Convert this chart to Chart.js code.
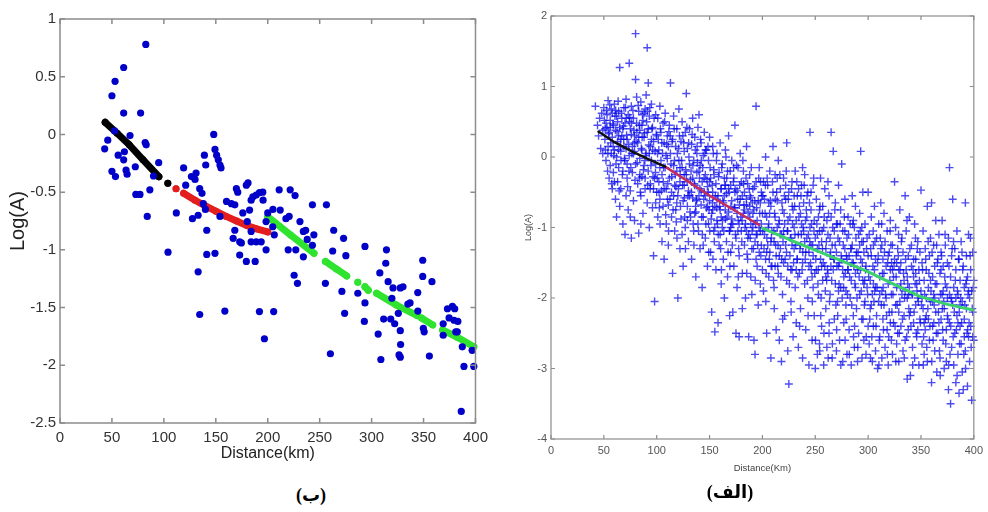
<!DOCTYPE html>
<html>
<head>
<meta charset="utf-8">
<script src="https://cdn.jsdelivr.net/npm/chart.js@4.4.1/dist/chart.umd.min.js"></script>
<style>
body { margin:0; background:#fff; width:988px; height:512px; position:relative; overflow:hidden; }
.box { position:absolute; }
.cap { position:absolute; font: bold 18px 'Liberation Serif', 'DejaVu Sans', serif; direction: rtl; transform: translateX(-50%); color:#000; white-space:nowrap; }
</style>
</head>
<body>
<div class="box" style="left:0;top:0;width:494px;height:475px"><canvas id="chartB"></canvas></div>
<div class="box" style="left:494px;top:0;width:494px;height:485px"><canvas id="chartA"></canvas></div>
<div class="cap" style="left:311px;top:484px">(ب)</div>
<div class="cap" style="left:730px;top:481px">(الف)</div>
<script>
// ---- panel (ب): station dots + fitted curve pieces
const bluePoints = [[43,-0.125],[46,-0.05],[50,0.335],[50,-0.32],[52.5,0.03],[53,0.46],[53.4,-0.365],[56,-0.18],[61.3,0.58],[61.3,0.185],[61.3,-0.22],[62,-0.15],[63.6,-0.31],[64.6,-0.345],[67.4,-0.01],[72.5,-0.28],[73,-0.52],[77,-0.52],[77.6,0.185],[82.6,0.78],[82,-0.07],[83,-0.09],[84,-0.71],[86.5,-0.48],[90,-0.36],[95,-0.245],[104,-1.02],[112,-0.68],[119,-0.29],[121,-0.44],[126.5,-0.365],[127.5,-0.73],[130,-0.39],[131,-0.335],[133,-0.70],[133,-1.19],[134.5,-1.56],[134.5,-0.47],[136.7,-0.51],[138,-0.60],[139,-0.18],[140.3,-0.265],[140,-0.65],[141.3,-0.83],[141.3,-1.04],[148,0.0],[149.2,-0.13],[150.8,-0.18],[152.4,-0.22],[154,-0.265],[155,-0.29],[149.2,-1.03],[154,-0.71],[158.7,-1.53],[160.3,-0.58],[165,-0.60],[168.3,-0.61],[166.7,-0.90],[168.3,-0.83],[169.8,-0.47],[171.1,-0.50],[173,-0.93],[174.6,-0.94],[173,-1.045],[176,-0.68],[179.4,-1.10],[179.4,-0.44],[181,-0.42],[180.3,-0.755],[182.5,-0.655],[184,-0.57],[184,-0.84],[184,-0.93],[185.7,-0.54],[187.9,-1.10],[188.9,-0.525],[188.9,-0.93],[192,-0.505],[192,-1.535],[193.7,-0.93],[195.2,-0.50],[195.5,-0.57],[196.8,-1.77],[198.4,-1.00],[198.4,-0.755],[200,-0.68],[204.8,-0.80],[205.7,-1.535],[206.3,-0.87],[205,-0.65],[211,-0.48],[212,-0.655],[217.5,-0.73],[219.7,-1.00],[220.6,-0.71],[221.6,-0.48],[225.4,-1.22],[226.3,-0.53],[227,-1.00],[228.6,-1.29],[231,-0.755],[234.3,-0.84],[234.3,-1.06],[236.5,-0.83],[238,-0.91],[243,-0.61],[243,-0.96],[244.4,-0.87],[255.5,-1.29],[256.5,-0.61],[260.3,-1.90],[262.5,-1.01],[263.5,-0.83],[271.4,-1.36],[273,-0.90],[274,-1.55],[275.2,-1.05],[286.7,-1.376],[293.6,-0.97],[293.6,-1.46],[293,-1.62],[306.3,-1.73],[307.9,-1.20],[308.9,-1.95],[311.6,-1.60],[313.6,-1.116],[314.3,-1.00],[315.9,-1.276],[318.4,-1.60],[319.5,-1.42],[320.6,-1.33],[322.2,-1.64],[325.7,-1.55],[326.4,-1.91],[327.6,-1.33],[327.6,-1.70],[327.9,-1.82],[327.6,-1.93],[330.2,-1.32],[334.9,-1.47],[337,-1.46],[344.4,-1.37],[344.5,-1.53],[349.2,-1.09],[349.2,-1.23],[349.8,-1.68],[350.6,-1.71],[355.6,-1.92],[358.1,-1.276],[368.9,-1.64],[368.9,-1.74],[373,-1.51],[374.6,-1.59],[377.8,-1.49],[379.4,-1.61],[380,-1.51],[381,-1.71],[382.5,-1.71],[383,-1.62],[386.3,-2.40],[387.3,-1.84],[388.9,-2.01],[396.8,-1.87],[398.4,-2.01]];

// null y = break in the dotted curve
const fitBlackB = [[43.5,0.105],[55,0.01],[66.7,-0.09],[80,-0.22],[95.2,-0.366],[99,null],[103.8,-0.424]];
const fitRedB = [[111.7,-0.47],[115,null],[119,-0.51],[130,-0.57],[140,-0.62],[150,-0.665],[160,-0.71],[170,-0.75],[180,-0.79],[190,-0.82],[200,-0.845]];
const fitGreenB = [[200,-0.713],[222,-0.871],[244.5,-1.03],[250,null],[255.5,-1.10],[266,-1.165],[276,-1.226],[281,null],[286.7,-1.28],[290,null],[293.6,-1.32],[296.8,-1.35],[300,null],[304.8,-1.376],[323.8,-1.478],[344,-1.57],[346,null],[348,-1.59],[358.8,-1.65],[363,null],[368.3,-1.694],[383,-1.76],[398.4,-1.84]];

// ---- panel (الف): record crosses by distance band
const crossNear = [[42,0.72],[44,0.45],[45,0.30],[46,0.55],[47,0.12],[48,0.62],[49,0.05],[49,0.38],[50,0.70],[51,0.25],[52,0.48],[52,-0.05],[53,0.60],[54,0.15],[54,0.80],[55,-0.30],[55,0.35],[56,0.52],[56,-0.12],[57,0.05],[57,0.68],[58,-0.45],[58,0.28],[59,0.45],[59,-0.22],[60,0.10],[60,0.75],[61,-0.60],[61,0.38],[62,-0.85],[62,0.58],[62,0.00],[63,-0.35],[63,0.22],[64,0.65],[64,-0.15],[65,1.27],[65,0.42],[65,-0.70],[66,0.08],[66,-0.45],[67,0.55],[67,0.30],[68,-0.95],[68,-0.20],[69,0.70],[69,0.15],[70,-1.10],[70,-0.05],[70,0.48],[71,-0.55],[71,0.82],[72,0.25],[72,-0.30],[73,0.60],[73,-0.75],[74,1.33],[74,0.02],[75,0.40],[75,-0.48],[76,-1.15],[76,0.72],[77,0.15],[77,-0.22],[78,0.55],[78,-0.62],[79,0.30],[79,-0.90],[80,1.75],[80,1.10],[80,-0.10],[81,0.48],[81,0.85],[82,-0.38],[82,0.20],[83,-1.08],[83,0.65],[84,-0.02],[84,0.38],[85,-0.55],[85,0.78],[86,0.10],[86,-0.28],[87,0.52],[87,-0.80],[88,0.28],[88,-0.12],[89,0.68],[89,-0.45],[90,0.05],[90,0.88],[91,1.55],[91,-0.65],[91,0.35],[92,1.05],[92,-0.20],[93,0.58],[93,-1.00],[94,0.15],[94,-0.38],[95,0.75],[95,-0.05],[96,-0.72],[96,0.42],[97,-1.40],[97,0.22],[98,-2.05],[98,-0.30],[99,0.60],[99,-0.10],[100,-0.50],[100,0.30],[53,0.42],[58,0.62],[63,0.50],[66,0.25],[68,0.40],[71,0.12],[74,0.50],[76,0.32],[79,0.08],[83,0.28],[86,0.45],[88,0.62],[92,0.40],[95,0.25],[97,-0.45],[60,-0.35],[64,0.30],[72,-0.10],[78,0.05],[84,-0.25],[89,-0.30],[93,0.05],[99,-0.65],[85,-0.95],[75,-0.85],
[50.5,0.52],[51.5,0.10],[52.5,0.66],[53.5,-0.20],[54.5,0.33],[55.5,0.74],[56.5,0.20],[57.5,-0.38],[58.5,0.47],[59.5,0.02],[60.5,0.58],[61.5,-0.10],[62.5,0.36],[63.5,0.79],[64.5,-0.48],[65.5,0.15],[66.5,0.62],[67.5,-0.25],[68.5,0.44],[69.5,-0.02],[70.5,0.70],[71.5,0.31],[72.5,-0.42],[73.5,0.18],[74.5,0.56],[75.5,-0.15],[76.5,0.05],[77.5,0.66],[78.5,0.38],[79.5,-0.33],[80.5,0.22],[81.5,-0.08],[82.5,0.73],[83.5,0.45],[84.5,-0.50],[85.5,0.12],[86.5,0.60],[87.5,-0.18],[88.5,0.34],[89.5,0.02],[90.5,0.50],[91.5,-0.40],[92.5,0.17],[93.5,0.70],[94.5,-0.12],[95.5,0.40],[96.5,-0.28],[97.5,0.55],[98.5,0.08],[99.5,0.32],[51.2,0.40],[53.8,0.05],[56.2,0.42],[58.8,0.15],[61.2,0.66],[63.8,0.10],[66.2,-0.05],[68.8,0.25],[71.2,0.55],[73.8,-0.20],[76.2,0.48],[78.8,0.20],[81.2,0.35],[83.8,-0.30],[86.2,0.28],[88.8,-0.05],[91.2,0.65],[93.8,-0.45],[96.2,0.10],[98.8,-0.22]];

const crossMid = [[101,0.55],[101,-0.85],[102,0.10],[102,-0.35],[103,0.72],[103,-0.60],[104,-0.05],[104,0.35],[105,-1.20],[105,-0.25],[106,0.48],[106,-0.70],[107,0.20],[107,-1.45],[108,-0.15],[108,0.62],[109,-0.45],[109,-0.95],[110,0.30],[110,-0.02],[111,-0.68],[111,-1.25],[112,0.45],[112,-0.30],[113,1.05],[113,0.05],[114,-0.85],[114,-0.50],[115,0.25],[115,-1.65],[116,-0.12],[116,0.58],[117,-0.40],[117,-1.05],[118,0.15],[118,-0.75],[119,0.40],[119,-0.20],[120,-2.00],[120,-0.55],[121,0.68],[121,-0.05],[122,-1.30],[122,-0.35],[123,0.22],[123,-0.88],[124,-0.15],[124,0.50],[125,-0.62],[125,-1.55],[126,0.08],[126,-0.40],[127,0.35],[127,-1.00],[128,0.90],[128,-0.25],[129,-0.70],[129,0.12],[130,-1.20],[130,-0.48],[131,0.40],[131,-0.10],[132,-0.85],[132,-0.32],[133,0.18],[133,-1.45],[134,-0.58],[134,0.55],[135,-0.05],[135,-1.05],[136,-0.40],[136,0.28],[137,-0.78],[137,-1.70],[138,0.05],[138,-0.22],[139,-0.95],[139,0.42],[140,-0.55],[140,0.60],[141,-1.30],[141,-0.12],[142,-0.68],[142,0.20],[143,-0.35],[143,-1.85],[144,-0.85],[144,0.02],[145,-0.50],[145,0.35],[146,-1.15],[146,-0.25],[147,-0.72],[147,0.10],[148,-1.55],[148,-0.42],[149,-0.05],[149,-0.95],[150,-0.62],[150,0.28],[151,-1.35],[151,-0.30],[152,-0.80],[152,-2.20],[153,0.15],[153,-0.50],[154,-1.05],[154,-0.18],[155,-2.48],[155,-0.70],[156,-0.38],[156,-1.60],[157,0.05],[157,-0.90],[158,-2.35],[158,-0.55],[159,-1.25],[159,-0.22],[160,-0.75],[160,0.20],[161,-1.80],[161,-0.45],[162,-1.00],[162,-0.10],[163,-0.65],[163,-1.45],[164,-0.30],[164,-2.00],[165,-0.88],[165,0.10],[166,-1.20],[166,-0.52],[167,-1.70],[167,-0.20],[168,-0.78],[168,0.30],[169,-1.05],[169,-2.25],[170,-0.40],[170,-1.35],[171,-0.62],[171,-0.05],[172,-2.20],[172,-0.95],[173,-1.55],[173,-0.30],[174,0.45],[174,-0.72],[175,-1.15],[175,-2.50],[176,-0.48],[176,-1.85],[177,-0.90],[177,-0.15],[178,-2.55],[178,-1.40],[179,-0.60],[179,0.05],[180,-1.05],[180,-0.35],[181,-1.65],[181,-2.15],[182,-0.80],[182,-0.20],[183,-1.25],[183,-0.50],[184,-2.00],[184,-0.95],[185,-0.68],[185,0.15],[186,-1.45],[186,-0.38],[187,-1.10],[187,-2.55],[188,-0.85],[188,-0.25],[189,-1.70],[189,-0.58],[190,-1.30],[190,-1.95],[191,-0.45],[191,-1.00],[192,-2.60],[192,-0.75],[193,-2.80],[193,-1.20],[194,0.72],[194,-0.35],[195,-1.55],[195,-0.90],[196,-0.62],[196,-2.10],[197,-1.35],[197,-0.15],[198,-1.05],[198,-1.80],[199,-0.50],[199,-1.25],[200,-0.80],[200,-1.60],[122,-0.15],[126,-0.25],[131,-0.55],[134,-0.30],[138,-0.60],[142,-0.48],[146,-0.55],[150,-0.35],[153,-0.75],[157,-0.60],[161,-0.85],[164,-0.55],[168,-0.45],[171,-0.88],[174,-0.50],[178,-0.95],[181,-0.55],[185,-1.05],[188,-0.70],[191,-0.80],[195,-1.10],[199,-0.95],[103,-0.15],[107,-0.45],[111,0.15],[116,-0.55],[119,-0.65],[124,-1.10],[129,-0.90],[136,-0.80],[140,-0.20],[144,-1.25],[148,-0.70],[155,-1.00],[160,-1.10],[165,-0.40],[170,-1.00],[176,-0.80],[183,-0.75],[189,-0.95],[194,-1.45],[198,-0.65],
[100.5,-0.30],[101.5,0.25],[102.5,-0.72],[103.5,0.40],[104.5,-0.48],[105.5,0.05],[106.5,-0.15],[107.5,0.50],[108.5,-0.82],[109.5,0.18],[110.5,-0.38],[111.5,0.36],[112.5,-0.60],[113.5,-0.10],[114.5,0.22],[115.5,-0.75],[116.5,0.40],[117.5,-0.25],[118.5,-0.92],[119.5,0.05],[120.5,-0.45],[121.5,0.30],[122.5,-0.70],[123.5,-0.05],[124.5,-0.40],[125.5,0.20],[126.5,-0.85],[127.5,-0.18],[128.5,0.42],[129.5,-0.55],[130.5,0.00],[131.5,-0.78],[132.5,-0.20],[133.5,0.32],[134.5,-0.95],[135.5,-0.38],[136.5,0.10],[137.5,-0.62],[138.5,-0.08],[139.5,-1.05],[140.5,-0.30],[141.5,0.25],[142.5,-0.85],[143.5,-0.15],[144.5,-0.60],[145.5,0.05],[146.5,-0.95],[147.5,-0.32],[148.5,0.15],[149.5,-0.75],[100.8,0.05],[102.2,-0.50],[104.8,0.20],[106.2,-0.35],[108.8,0.02],[110.2,-0.60],[112.8,0.30],[114.2,-0.28],[116.8,-0.05],[118.2,-0.42],[120.8,0.12],[122.2,-0.25],[124.8,0.30],[126.2,-0.58],[128.8,-0.35],[130.2,0.20],[132.8,-0.50],[134.2,-0.12],[136.8,-0.70],[138.2,0.15],[140.8,-0.45],[142.2,-0.05],[144.8,-0.30],[146.2,0.10],[148.8,-0.50],[103.2,-0.95],[111.2,-1.05],[119.2,-1.15],[127.2,-1.30],[135.2,-1.25],[143.2,-1.10],[149.2,-1.35],
[150.5,-0.15],[151.5,-0.88],[152.5,-0.40],[153.5,0.05],[154.5,-1.20],[155.5,-0.55],[156.5,-0.05],[157.5,-0.95],[158.5,-0.28],[159.5,-0.70],[160.5,-1.30],[161.5,-0.15],[162.5,-0.62],[163.5,-1.05],[164.5,-0.40],[165.5,0.00],[166.5,-0.85],[167.5,-1.35],[168.5,-0.50],[169.5,-0.20],[170.5,-0.95],[171.5,-1.25],[172.5,-0.35],[173.5,-0.72],[174.5,-1.10],[175.5,-0.12],[176.5,-0.60],[177.5,-1.30],[178.5,-0.40],[179.5,-0.85],[180.5,-1.20],[181.5,-0.05],[182.5,-0.68],[183.5,-1.00],[184.5,-0.30],[185.5,-1.38],[186.5,-0.78],[187.5,-0.45],[188.5,-1.15],[189.5,-0.15],[190.5,-0.65],[191.5,-1.30],[192.5,-0.42],[193.5,-0.95],[194.5,-0.72],[195.5,-1.25],[196.5,-0.30],[197.5,-0.80],[198.5,-1.40],[199.5,-0.55],[150.2,-1.05],[152.8,-0.65],[154.2,-0.25],[156.8,-0.72],[158.2,-1.10],[160.8,-0.45],[162.2,-0.90],[164.8,-0.75],[166.2,-0.30],[168.8,-1.05],[170.2,-0.70],[172.8,-0.15],[174.2,-0.45],[176.8,-1.05],[178.2,-0.68],[180.8,-0.90],[182.2,-0.38],[184.8,-0.60],[186.2,-1.15],[188.2,-0.55],[190.2,-1.05],[192.8,-0.62],[194.2,-1.10],[196.8,-1.00],[198.2,-0.35],[153.2,-1.45],[161.2,-1.60],[169.2,-1.55],[177.2,-1.70],[185.2,-1.65],[193.2,-1.75]];

const crossFar1 = [[201,-0.35],[201,-1.90],[202,-1.10],[202,-0.60],[203,-1.45],[203,0.00],[204,-2.50],[204,-0.85],[205,-1.25],[205,-0.40],[206,-1.70],[206,-0.95],[207,-0.20],[207,-1.35],[208,-2.85],[208,-0.70],[209,-1.05],[209,-1.55],[210,0.15],[210,-0.50],[211,-1.20],[211,-1.85],[212,-0.85],[212,-0.25],[213,-2.45],[213,-1.40],[214,-0.62],[214,-1.00],[215,-0.05],[215,-1.65],[216,-2.60],[216,-0.90],[217,-1.30],[217,-0.45],[218,-2.90],[218,-1.10],[219,-0.75],[219,-1.95],[220,-0.30],[220,-1.50],[221,-2.25],[221,-0.95],[222,-1.25],[222,-0.60],[223,-1.75],[223,0.20],[224,-1.05],[224,-2.75],[225,-3.22],[225,-0.50],[226,-1.40],[226,-0.85],[227,-2.05],[227,-1.15],[228,-0.35],[228,-1.60],[229,-2.55],[229,-0.75],[230,-1.30],[230,-1.00],[231,-0.20],[231,-1.85],[232,-2.35],[232,-0.90],[233,-1.45],[233,-0.55],[234,-1.10],[234,-2.70],[235,-0.70],[235,-1.65],[236,-2.15],[236,-1.25],[237,-0.40],[237,-0.95],[238,-1.50],[238,-2.85],[239,-1.05],[239,-0.65],[240,-1.80],[240,-0.25],[241,-1.35],[241,-2.45],[242,-0.85],[242,-1.15],[243,-2.00],[243,-0.50],[244,-1.55],[244,-2.95],[245,0.35],[245,-1.00],[246,-1.25],[246,-0.75],[247,-2.60],[247,-1.70],[248,-0.40],[248,-1.40],[249,-2.25],[249,-0.90],[250,-3.00],[250,-1.15],[251,-1.60],[251,-0.60],[252,-2.80],[252,-1.30],[253,-0.85],[253,-1.95],[254,-2.65],[254,-1.05],[255,-1.45],[255,-0.30],[256,-2.40],[256,-1.20],[257,-0.70],[257,-1.75],[258,-2.95],[258,-1.00],[259,-1.55],[259,-0.45],[260,-2.15],[260,-1.30],[261,-0.90],[261,-2.70],[262,-1.65],[262,-1.10],[263,-0.55],[263,-2.50],[264,-1.40],[264,-1.95],[265,0.35],[265,-0.85],[266,-2.85],[266,-1.25],[267,0.08],[267,-1.60],[268,-1.05],[268,-2.30],[269,-0.65],[269,-1.80],[270,-2.75],[270,-1.35],[271,-0.95],[271,-2.05],[272,-1.55],[272,-0.40],[273,-2.60],[273,-1.20],[274,-1.85],[274,-0.75],[275,-0.10],[275,-1.45],[276,-2.90],[276,-1.05],[277,-1.70],[277,-2.35],[278,-0.60],[278,-1.30],[279,-2.10],[279,-1.90],[280,-1.15],[280,-2.80],[281,-0.85],[281,-1.60],[282,-2.45],[282,-1.40],[283,-0.95],[283,-2.00],[284,-1.75],[284,-2.95],[285,-1.25],[285,-0.55],[286,-2.25],[286,-1.50],[287,-1.00],[287,-2.70],[288,-1.85],[288,-0.70],[289,-1.35],[289,-2.15],[290,-2.90],[290,-1.60],[291,-1.10],[291,-2.50],[292,-1.95],[292,-0.80],[293,0.08],[293,-1.45],[294,-2.30],[294,-1.20],[295,-1.75],[295,-0.50],[296,-2.60],[296,-1.35],[297,-0.95],[297,-2.05],[298,-1.55],[298,-2.80],[299,-1.15],[299,-1.85],[300,-0.50],[300,-2.40],[204,-1.35],[208,-1.20],[212,-1.55],[216,-1.40],[220,-1.05],[224,-1.55],[228,-1.25],[232,-1.60],[236,-0.80],[240,-1.20],[244,-1.35],[248,-1.85],[252,-1.10],[256,-1.55],[260,-1.70],[264,-1.15],[268,-1.45],[272,-1.90],[276,-1.60],[280,-1.45],[284,-1.30],[288,-1.65],[292,-1.25],[296,-1.80],[300,-1.40],[206,-0.65],[214,-0.30],[222,-0.40],[230,-0.55],[238,-0.15],[246,-0.50],[254,-0.75],[262,-0.35],[270,-0.95],[278,-1.05],[286,-0.90],[294,-1.00],
[200.5,-0.55],[201.5,-1.30],[202.5,-0.80],[203.5,-1.65],[204.5,-0.30],[205.5,-1.00],[206.5,-1.45],[207.5,-0.62],[208.5,-1.15],[209.5,-0.35],[210.5,-1.75],[211.5,-0.80],[212.5,-1.25],[213.5,-0.50],[214.5,-1.55],[215.5,-0.95],[216.5,-0.25],[217.5,-1.70],[218.5,-0.65],[219.5,-1.20],[220.5,-0.80],[221.5,-1.45],[222.5,-0.20],[223.5,-1.05],[224.5,-0.60],[225.5,-1.80],[226.5,-1.15],[227.5,-0.45],[228.5,-0.95],[229.5,-1.50],[230.5,-0.70],[231.5,-1.25],[232.5,-0.35],[233.5,-1.70],[234.5,-0.85],[235.5,-1.30],[236.5,-0.55],[237.5,-1.60],[238.5,-1.00],[239.5,-0.40],[240.5,-1.45],[241.5,-0.75],[242.5,-1.75],[243.5,-1.10],[244.5,-0.65],[245.5,-1.50],[246.5,-0.95],[247.5,-1.25],[248.5,-0.30],[249.5,-1.65],[200.2,-1.05],[202.8,-0.40],[204.2,-1.15],[206.8,-0.80],[208.2,-1.55],[210.8,-1.05],[212.2,-0.60],[214.8,-1.25],[216.8,-1.10],[218.2,-1.45],[220.8,-0.55],[222.8,-1.35],[224.2,-0.90],[226.8,-1.60],[228.2,-0.70],[230.8,-1.10],[232.8,-1.45],[234.2,-0.45],[236.8,-1.10],[238.2,-1.35],[240.8,-0.90],[242.2,-0.55],[244.8,-1.20],[246.2,-1.60],[248.8,-1.05],[203.2,-2.05],[211.2,-2.15],[219.2,-2.30],[227.2,-2.20],[235.2,-2.40],[243.2,-2.25],[247.2,-2.05],
[250.5,-1.45],[251.5,-0.95],[252.5,-1.80],[253.5,-1.25],[254.5,-0.70],[255.5,-2.00],[256.5,-1.05],[257.5,-1.50],[258.5,-0.85],[259.5,-1.90],[260.5,-1.20],[261.5,-1.60],[262.5,-0.80],[263.5,-2.05],[264.5,-1.35],[265.5,-1.75],[266.5,-1.00],[267.5,-1.45],[268.5,-0.75],[269.5,-2.10],[270.5,-1.55],[271.5,-1.15],[272.5,-1.80],[273.5,-0.95],[274.5,-1.40],[275.5,-2.00],[276.5,-1.25],[277.5,-0.85],[278.5,-1.65],[279.5,-1.40],[280.5,-1.95],[281.5,-1.10],[282.5,-1.70],[283.5,-1.30],[284.5,-2.10],[285.5,-0.95],[286.5,-1.55],[287.5,-1.80],[288.5,-1.15],[289.5,-2.00],[290.5,-1.35],[291.5,-1.70],[292.5,-1.05],[293.5,-1.90],[294.5,-1.50],[295.5,-1.20],[296.5,-2.10],[297.5,-1.60],[298.5,-1.30],[299.5,-1.95],[250.2,-2.60],[254.2,-2.75],[258.2,-2.50],[262.2,-2.85],[266.2,-2.65],[270.2,-2.45],[274.2,-2.95],[278.2,-2.60],[282.2,-2.80],[286.2,-2.55],[290.2,-2.70],[294.2,-2.85],[298.2,-2.55],[252.8,-1.60],[256.8,-1.30],[260.8,-1.75],[264.8,-1.55],[268.8,-1.25],[272.8,-1.50],[276.8,-1.85],[280.8,-1.60],[284.8,-1.50],[288.8,-1.40],[292.8,-1.60],[296.8,-1.75],[255.2,-2.25],[263.2,-2.35],[271.2,-2.25],[279.2,-2.30],[287.2,-2.40],[295.2,-2.30]];

const crossFar2 = [[301,-1.10],[301,-2.65],[302,-1.75],[302,-2.15],[303,-0.85],[303,-1.40],[304,-2.90],[304,-1.95],[305,-1.25],[305,-2.40],[306,-1.60],[306,-0.70],[307,-2.75],[307,-1.85],[308,-1.15],[308,-2.25],[309,-1.50],[309,-3.00],[310,-0.95],[310,-2.05],[311,-1.70],[311,-2.55],[312,-1.30],[312,-0.65],[313,-2.85],[313,-1.90],[314,-1.45],[314,-2.30],[315,-0.80],[315,-1.65],[316,-2.70],[316,-1.20],[317,-2.00],[317,-1.55],[318,-2.45],[318,-1.05],[319,-1.80],[319,-2.95],[320,-1.35],[320,-2.20],[321,-0.90],[321,-1.60],[322,-2.60],[322,-1.95],[323,-1.25],[323,-2.80],[324,-1.70],[324,-2.35],[325,-0.35],[325,-1.45],[326,-2.10],[326,-1.00],[327,-2.65],[327,-1.85],[328,-1.30],[328,-2.50],[329,-1.60],[329,-2.90],[330,-0.75],[330,-2.05],[331,-1.50],[331,-2.40],[332,-1.15],[332,-1.95],[333,-2.75],[333,-1.35],[334,-2.25],[334,-1.75],[335,-0.55],[335,-2.60],[336,-1.60],[336,-1.05],[337,-3.15],[337,-2.00],[338,-1.40],[338,-2.45],[339,-0.85],[339,-1.85],[340,-3.10],[340,-2.20],[341,-1.55],[341,-1.25],[342,-2.70],[342,-1.95],[343,-1.70],[343,-2.35],[344,-0.95],[344,-2.85],[345,-1.45],[345,-2.10],[346,-1.80],[346,-2.55],[347,-1.20],[347,-2.00],[348,-2.95],[348,-1.60],[349,-2.30],[349,-1.35],[350,-0.47],[350,-1.90],[351,-2.65],[351,-1.50],[352,-1.05],[352,-2.15],[353,-2.80],[353,-1.75],[354,-1.30],[354,-2.45],[355,-2.00],[355,-1.60],[356,-0.70],[356,-2.90],[357,-1.85],[357,-2.30],[358,-1.40],[358,-2.60],[359,-1.15],[359,-2.05],[360,-3.20],[360,-0.65],[361,-1.70],[361,-2.40],[362,-1.95],[362,-1.25],[363,-2.75],[363,-1.55],[364,-2.20],[364,-0.90],[365,-1.80],[365,-3.05],[366,-2.50],[366,-1.45],[367,-1.10],[367,-2.05],[368,-2.85],[368,-1.65],[369,-2.30],[369,-1.35],[370,-0.90],[370,-1.95],[371,-2.60],[371,-1.55],[372,-3.00],[372,-2.15],[373,-1.25],[373,-1.80],[374,-2.45],[374,-2.90],[375,-1.50],[375,-2.00],[376,-3.30],[376,-1.15],[377,-0.15],[377,-2.35],[378,-3.50],[378,-1.70],[379,-2.70],[379,-1.40],[380,-0.60],[380,-2.10],[381,-1.85],[381,-2.95],[382,-1.30],[382,-2.50],[383,-3.20],[383,-1.60],[384,-2.25],[384,-1.05],[385,-1.95],[385,-2.80],[386,-1.45],[386,-3.35],[387,-2.40],[387,-1.75],[388,-1.20],[388,-2.65],[389,-2.05],[389,-3.05],[390,-1.55],[390,-3.30],[391,-2.30],[391,-1.85],[392,-0.65],[392,-2.75],[393,-1.40],[393,-2.15],[394,-3.25],[394,-1.70],[395,-2.55],[395,-1.10],[396,-2.00],[396,-2.90],[397,-1.60],[397,-2.40],[398,-3.45],[398,-1.90],[399,-2.20],[399,-1.35],[400,-2.60],[400,-1.75],[303,-2.10],[307,-1.45],[311,-1.95],[315,-2.10],[319,-1.40],[323,-1.60],[327,-1.50],[331,-1.80],[335,-1.90],[339,-2.25],[343,-1.45],[347,-2.45],[351,-2.00],[355,-2.25],[359,-1.75],[363,-2.00],[367,-2.35],[371,-1.90],[375,-2.25],[379,-2.05],[383,-2.00],[387,-2.10],[391,-2.55],[395,-1.90],[399,-2.55],[305,-1.80],[313,-1.25],[321,-2.35],[329,-2.20],[337,-1.70],[345,-1.65],[353,-2.35],[361,-2.05],[369,-1.60],[377,-1.95],[385,-2.35],[393,-1.75],
[300.5,-1.70],[301.5,-2.30],[302.5,-1.30],[303.5,-2.55],[304.5,-1.55],[305.5,-2.05],[306.5,-1.20],[307.5,-2.40],[308.5,-1.85],[309.5,-1.40],[310.5,-2.60],[311.5,-1.15],[312.5,-2.10],[313.5,-1.65],[314.5,-2.45],[315.5,-1.35],[316.5,-1.95],[317.5,-2.25],[318.5,-1.50],[319.5,-2.55],[320.5,-1.75],[321.5,-1.25],[322.5,-2.20],[323.5,-1.95],[324.5,-1.55],[325.5,-2.40],[326.5,-1.70],[327.5,-2.10],[328.5,-1.40],[329.5,-2.50],[330.5,-1.85],[331.5,-1.20],[332.5,-2.30],[333.5,-1.65],[334.5,-2.00],[335.5,-1.45],[336.5,-2.55],[337.5,-1.80],[338.5,-2.15],[339.5,-1.30],[340.5,-2.40],[341.5,-1.95],[342.5,-1.60],[343.5,-2.20],[344.5,-1.80],[345.5,-2.50],[346.5,-1.30],[347.5,-2.05],[348.5,-1.75],[349.5,-2.35],[302.2,-2.85],[310.2,-2.95],[318.2,-2.80],[326.2,-2.90],[334.2,-2.85],[342.2,-2.95],[304.8,-1.05],[312.8,-0.95],[320.8,-1.05],[328.8,-1.10],[336.8,-0.90],[344.8,-1.15],[306.2,-1.90],[314.2,-1.85],[322.2,-1.50],[330.2,-1.60],[338.2,-1.95],[346.2,-1.90],
[350.5,-2.10],[351.5,-1.60],[352.5,-2.55],[353.5,-1.95],[354.5,-1.45],[355.5,-2.70],[356.5,-2.15],[357.5,-1.65],[358.5,-2.40],[359.5,-1.90],[360.5,-1.35],[361.5,-2.60],[362.5,-2.10],[363.5,-1.80],[364.5,-2.50],[365.5,-1.50],[366.5,-2.20],[367.5,-2.75],[368.5,-1.95],[369.5,-1.40],[370.5,-2.45],[371.5,-2.05],[372.5,-1.70],[373.5,-2.65],[374.5,-1.85],[375.5,-2.30],[376.5,-1.55],[377.5,-2.80],[378.5,-2.00],[379.5,-1.30],[380.5,-2.55],[381.5,-2.20],[382.5,-1.75],[383.5,-2.45],[384.5,-1.90],[385.5,-1.45],[386.5,-2.65],[387.5,-2.00],[388.5,-2.35],[389.5,-1.60],[390.5,-2.80],[391.5,-2.10],[392.5,-1.80],[393.5,-2.50],[394.5,-1.95],[395.5,-2.35],[396.5,-1.40],[397.5,-2.70],[398.5,-2.15],[399.5,-1.85],[352.2,-2.95],[360.2,-2.90],[368.2,-3.10],[376.2,-2.95],[384.2,-3.10],[392.2,-3.00],[356.8,-1.20],[364.8,-1.25],[372.8,-1.10],[380.8,-1.20],[388.8,-1.35],[396.8,-1.15],[354.2,-2.30],[362.2,-2.35],[370.2,-2.15],[378.2,-2.40],[386.2,-2.20],[394.2,-2.45]];

const fitBlackA = [[45,0.36],[47.4,0.336],[60,0.21],[77,0.075],[92,-0.03],[108,-0.137]];
const fitRedA = [[108,-0.137],[130,-0.35],[151.7,-0.563],[175,-0.77],[197,-0.965]];
const fitGreenA = [[200,-1.01],[225,-1.17],[250,-1.32],[275,-1.475],[299.7,-1.627],[325,-1.81],[349.5,-1.98],[375,-2.09],[399.4,-2.17]];

const sans = "'Liberation Sans', Arial, sans-serif";
const toXY = arr => arr.map(p => ({ x: p[0], y: p[1] }));
const tickFmt = v => String(+v.toFixed(1));

// matlab-like box with inward ticks on all four sides
const boxAxes = {
  id: 'boxAxes',
  afterDatasetsDraw(chart, args, opts) {
    const { ctx, chartArea: a } = chart;
    const xs = chart.scales.x, ys = chart.scales.y;
    ctx.save();
    ctx.strokeStyle = opts.color;
    ctx.lineWidth = opts.width;
    ctx.strokeRect(a.left, a.top, a.right - a.left, a.bottom - a.top);
    ctx.beginPath();
    xs.ticks.forEach(t => {
      const px = xs.getPixelForValue(t.value);
      ctx.moveTo(px, a.bottom); ctx.lineTo(px, a.bottom - opts.len);
      ctx.moveTo(px, a.top); ctx.lineTo(px, a.top + opts.len);
    });
    ys.ticks.forEach(t => {
      const py = ys.getPixelForValue(t.value);
      ctx.moveTo(a.left, py); ctx.lineTo(a.left + opts.len, py);
      ctx.moveTo(a.right, py); ctx.lineTo(a.right - opts.len, py);
    });
    ctx.stroke();
    ctx.restore();
  }
};

function fitLine(pts, color, w, r) {
  return {
    data: toXY(pts), showLine: true, spanGaps: false,
    borderColor: color, backgroundColor: color, borderWidth: w,
    borderCapStyle: 'round', borderJoinStyle: 'round',
    pointRadius: r, pointBorderWidth: 0, pointBackgroundColor: color,
    order: 2, clip: 6
  };
}

// left panel (ب)
new Chart(document.getElementById('chartB'), {
  type: 'scatter',
  data: {
    datasets: [
      { data: toXY(bluePoints), backgroundColor: '#0000c8', borderWidth: 0, pointRadius: 3.6, order: 1, clip: 6 },
      fitLine(fitBlackB, '#000000', 7, 3.5),
      fitLine(fitRedB, '#e41e1e', 7, 3.5),
      fitLine(fitGreenB, '#2fe32f', 7, 3.5)
    ]
  },
  options: {
    responsive: true, maintainAspectRatio: false, animation: false,
    layout: { autoPadding: false, padding: { left: 0, top: 19, right: 14, bottom: 0 } },
    plugins: { legend: { display: false }, tooltip: { enabled: false },
      boxAxes: { color: '#8c8c8c', width: 1.5, len: 5 } },
    scales: {
      x: {
        type: 'linear', min: 0, max: 400,
        afterFit: s => { s.height = 52; },
        grid: { display: false, drawTicks: false }, border: { display: false },
        ticks: { stepSize: 50, color: '#333', font: { family: sans, size: 15 }, padding: 6, callback: tickFmt },
        title: { display: true, text: 'Distance(km)', color: '#222', font: { family: sans, size: 16 }, padding: { top: 0, bottom: 12 } }
      },
      y: {
        type: 'linear', min: -2.5, max: 1,
        afterFit: s => { s.width = 60; },
        grid: { display: false, drawTicks: false }, border: { display: false },
        ticks: { stepSize: 0.5, color: '#333', font: { family: sans, size: 15 }, padding: 4, callback: tickFmt },
        title: { display: true, text: 'Log(A)', color: '#222', font: { family: sans, size: 20 }, padding: { top: 6, bottom: 0 } }
      }
    }
  },
  plugins: [boxAxes]
});

// right panel (الف)
new Chart(document.getElementById('chartA'), {
  type: 'scatter',
  data: {
    datasets: [
      { data: toXY(crossNear.concat(crossMid, crossFar1, crossFar2)), pointStyle: 'cross',
        pointRadius: 4, pointBorderWidth: 1.4, borderColor: 'rgba(0,0,235,0.7)', backgroundColor: 'rgba(0,0,235,0.7)',
        order: 3, clip: 4 },
      fitLine(fitBlackA, '#111111', 2.5, 0),
      fitLine(fitRedA, '#c42c5c', 2.5, 0),
      fitLine(fitGreenA, '#3ad06a', 3, 0)
    ]
  },
  options: {
    responsive: true, maintainAspectRatio: false, animation: false,
    layout: { autoPadding: false, padding: { left: 0, top: 16, right: 9, bottom: 0 } },
    plugins: { legend: { display: false }, tooltip: { enabled: false },
      boxAxes: { color: '#8c8c8c', width: 1.2, len: 4 } },
    scales: {
      x: {
        type: 'linear', min: 0, max: 400,
        afterFit: s => { s.height = 46; },
        grid: { display: false, drawTicks: false }, border: { display: false },
        ticks: { stepSize: 50, color: '#555', font: { family: sans, size: 11 }, padding: 5 },
        title: { display: true, text: 'Distance(Km)', color: '#444', font: { family: sans, size: 9.5 }, padding: { top: 0, bottom: 11 } }
      },
      y: {
        type: 'linear', min: -4, max: 2,
        afterFit: s => { s.width = 57; },
        grid: { display: false, drawTicks: false }, border: { display: false },
        ticks: { stepSize: 1, color: '#555', font: { family: sans, size: 11 }, padding: 4 },
        title: { display: true, text: 'Log(A)', color: '#444', font: { family: sans, size: 9 }, padding: { top: 29, bottom: 0 } }
      }
    }
  },
  plugins: [boxAxes]
});
</script>
</body>
</html>
